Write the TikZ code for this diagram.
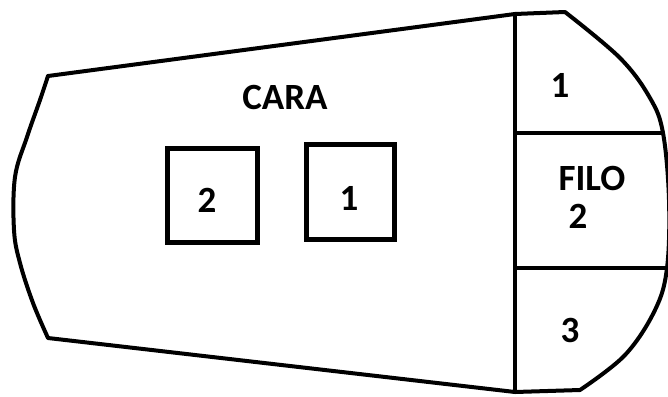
\documentclass[tikz,border=0pt]{standalone}
\usepackage{fontspec}
\setmainfont{Carlito}
\begin{document}
\begin{tikzpicture}[x=1pt,y=-1pt,
  outline/.style={line width=4pt,line join=round,line cap=round},
  box/.style={draw,line width=5pt,inner sep=0pt,minimum width=#1},
  lbl/.style={font=\bfseries\fontsize{37}{40}\selectfont,inner sep=0pt}]
\useasboundingbox (0,0) rectangle (668,396);
% outline of the insert
\coordinate (tl) at (48,76);
\coordinate (bl) at (48,338);
\coordinate (vt) at (515,14);
\coordinate (vb) at (515,392);
\coordinate (tr) at (565,12);
\coordinate (br) at (580,390);
\draw[outline] (vt) -- (tl)
  plot[smooth,tension=0.6] coordinates {(48,76) (40,100) (27,137) (15,177) (14,230) (20,263) (33,303) (48,338)}
  -- (vb);
\draw[outline] (vt) -- (tr)
  plot[smooth,tension=0.6] coordinates {(565,12) (620,58) (650,98) (663,133) (669,200) (667,268) (655,310) (625,355) (580,390)}
  -- (vb);
% dividing lines of the edge zone
\draw[outline] (vt) -- (vb);
\coordinate (h1a) at (515,133);
\coordinate (h1b) at (663,133);
\coordinate (h2a) at (515,268);
\coordinate (h2b) at (668,268);
\draw[outline] (h1a) -- (h1b);
\draw[outline] (h2a) -- (h2b);
% face
\node[lbl] (cara) at (285,97) {CARA};
\node[box=90pt,minimum height=94pt] (sq2) at (212.5,195.5) {};
\node[box=88pt,minimum height=95pt] (sq1) at (350.5,192) {};
\node[lbl] (n2) at (207,200) {2};
\node[lbl] (n1) at (349,198) {1};
% edge
\node[lbl] (e1) at (560,85) {1};
\node[lbl] (filo) at (592,178) {FILO};
\node[lbl] (e2) at (578,216) {2};
\node[lbl] (e3) at (570,330) {3};
\end{tikzpicture}
\end{document}
